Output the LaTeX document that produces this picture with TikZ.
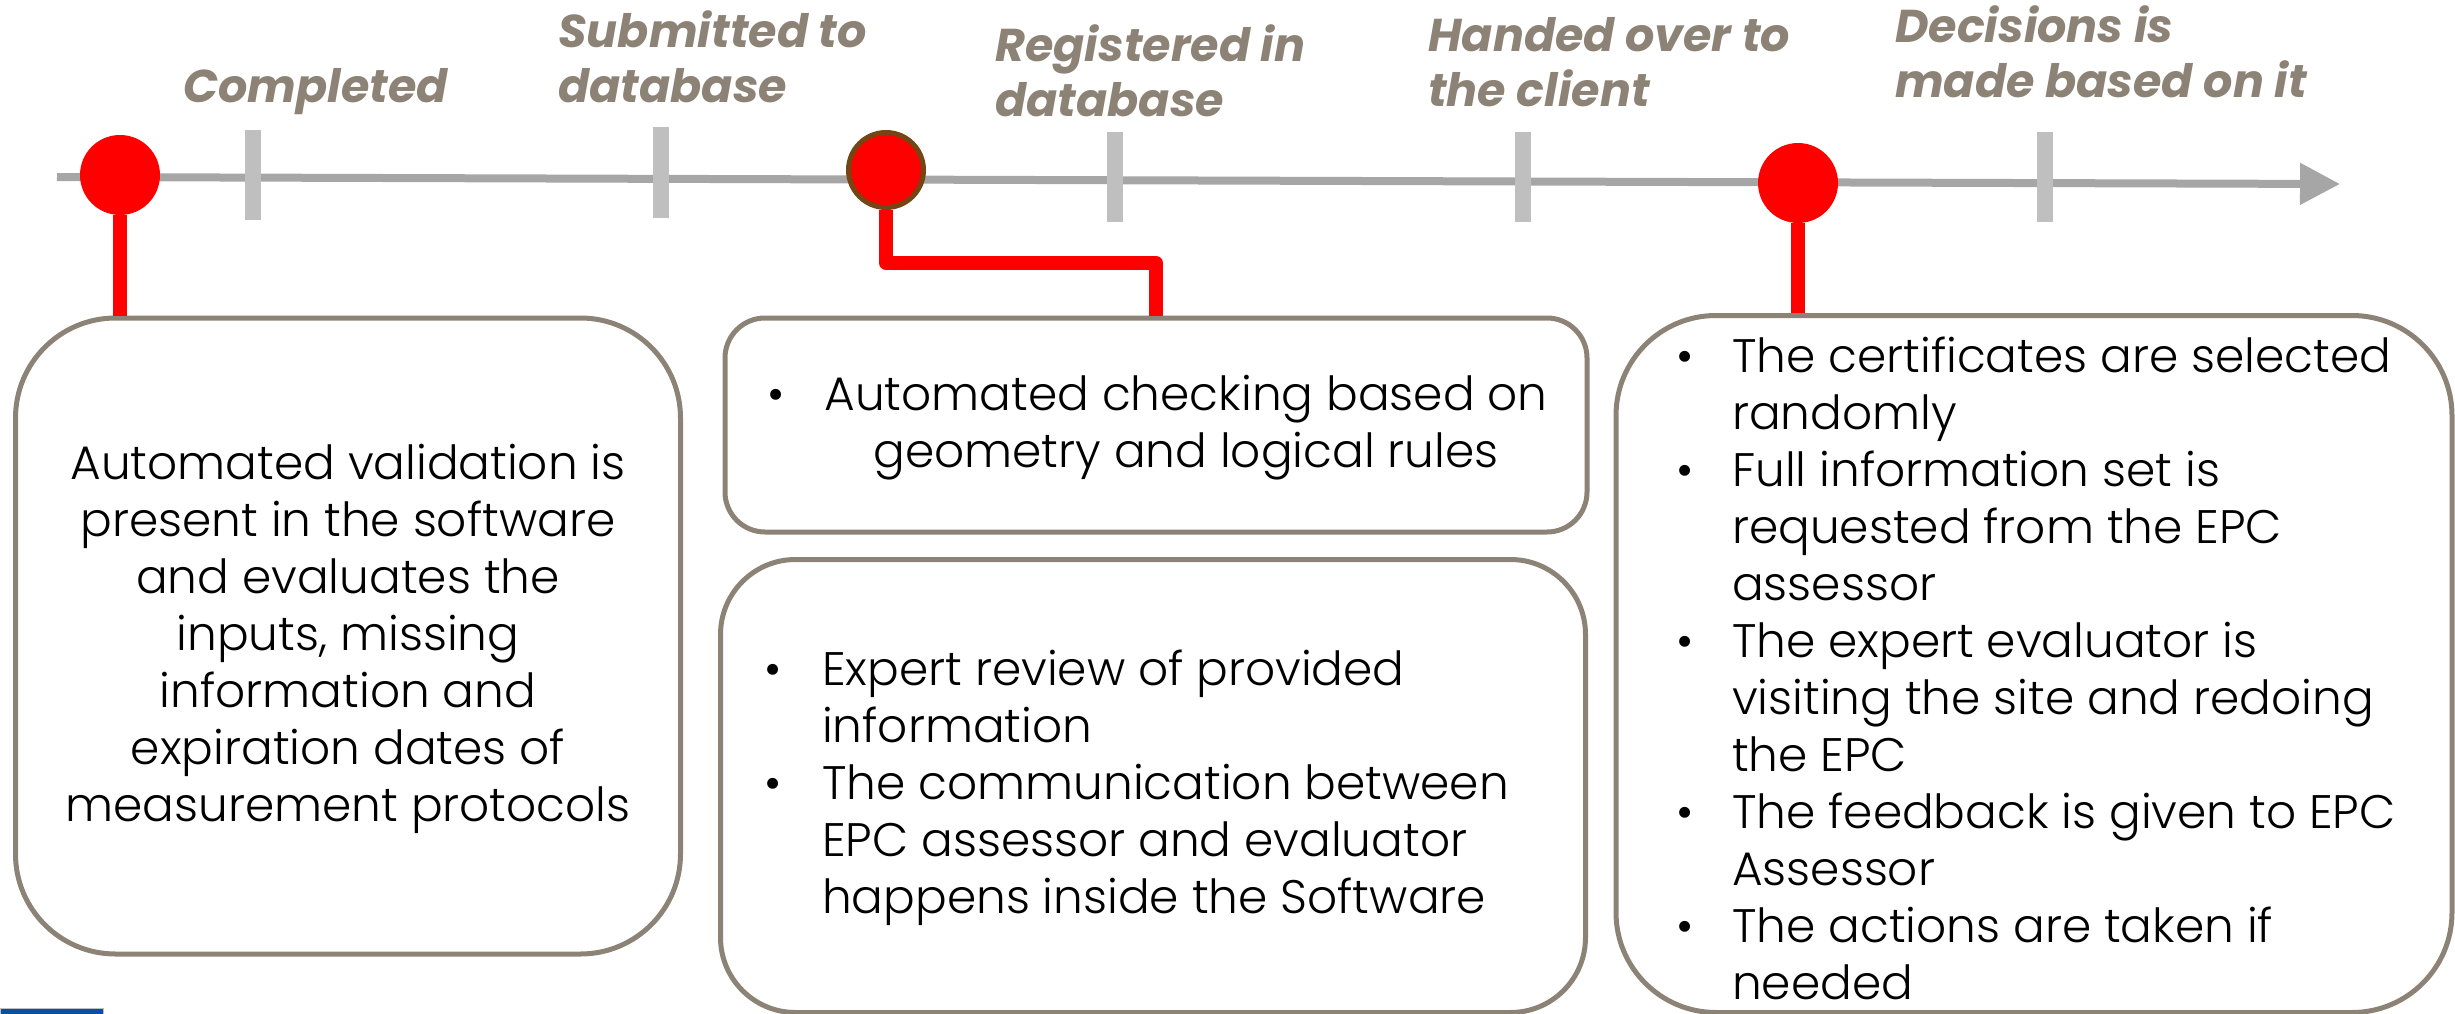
\documentclass[tikz,border=0pt]{standalone}
\usepackage{fontspec}
\setmainfont{Poppins}[UprightFont=* Light,BoldFont=* Bold,BoldItalicFont=* Bold Italic]
\usetikzlibrary{arrows.meta}
\definecolor{taupe}{RGB}{140,131,118}
\definecolor{axisgray}{RGB}{166,166,166}
\definecolor{tickgray}{RGB}{191,191,191}
\definecolor{dotred}{RGB}{255,0,0}
\definecolor{dotbrown}{RGB}{115,70,20}
\definecolor{logoblue}{RGB}{12,78,160}
\begin{document}
\begin{tikzpicture}[x=1pt,y=-1pt,
  tickmark/.style={draw=tickgray,line width=16pt},
  dot/.style={circle,fill=dotred,minimum size=80pt,inner sep=0pt},
  redline/.style={draw=dotred,line width=14pt,line join=round},
  title/.style={text=taupe,font=\fontsize{46}{55}\selectfont\bfseries\itshape,align=left,inner sep=0pt,anchor=base west},
  box/.style={draw=taupe,line width=5pt,fill=white,inner sep=0pt},
  boxtext/.style={font=\fontsize{47}{57}\selectfont,inner sep=0pt,text=black},
]
\useasboundingbox (0,0) rectangle (2455,1014);

% axis
\coordinate (axstart) at (57,177);
\coordinate (axend) at (2340,184);
\draw[axisgray,line width=8pt,-{Triangle[length=40pt,width=40pt]}] (axstart) -- (axend);

% ticks
\draw[tickmark] (253,130) -- (253,220);
\draw[tickmark] (661,127) -- (661,218);
\draw[tickmark] (1115,132) -- (1115,222);
\draw[tickmark] (1523,132) -- (1523,222);
\draw[tickmark] (2045,132) -- (2045,222);

% titles (base = baseline of last line)
\node[title] (t1) at (183,103) {Completed};
\node[title] (t2) at (558,103) {Submitted to\\database};
\node[title] (t3) at (995,117) {Registered in\\database};
\node[title] (t4) at (1428,107) {Handed over to\\the client};
\node[title] (t5) at (1895,98) {Decisions is\\made based on it};

% boxes
\node[box,rounded corners=100pt,minimum width=665pt,minimum height=636pt] (b1) at (348,636) {};
\node[box,rounded corners=40pt,minimum width=862pt,minimum height=214pt] (b2) at (1156,425) {};
\node[box,rounded corners=75pt,minimum width=865pt,minimum height=453pt] (b3) at (1153,786) {};
\node[box,rounded corners=100pt,minimum width=836pt,minimum height=697pt] (b4) at (2034,664) {};

% circles
\node[dot] (c1) at (120,175) {};
\node[dot,draw=dotbrown,line width=5pt,minimum size=75pt] (c2) at (886,170) {};
\node[dot] (c3) at (1798,183) {};

% connectors
\coordinate (k2) at (1156,263);
\draw[redline] (c1.south) -- (c1.south |- b1.north);
\draw[redline] (c2.south) |- (k2) -- (k2 |- b2.north);
\draw[redline] (c3.south) -- (c3.south |- b4.north);

% box texts
\node[boxtext,align=center] (x1) at (348,639) {Automated validation is\\present in the software\\and evaluates the\\inputs, missing\\information and\\expiration dates of\\measurement protocols};
\node[boxtext,align=center] (x2) at (1186,428) {\llap{\textbullet\hspace{40pt}}Automated checking based on\\geometry and logical rules};
\node[boxtext,align=left,anchor=west] (x3) at (764,788) {\makebox[58pt][l]{\textbullet}Expert review of provided\\\hspace*{58pt}information\\\makebox[58pt][l]{\textbullet}The communication between\\\hspace*{58pt}EPC assessor and evaluator\\\hspace*{58pt}happens inside the Software};
\node[boxtext,align=left,anchor=west] (x4) at (1676,668) {\makebox[56pt][l]{\textbullet}The certificates are selected\\\hspace*{56pt}randomly\\\makebox[56pt][l]{\textbullet}Full information set is\\\hspace*{56pt}requested from the EPC\\\hspace*{56pt}assessor\\\makebox[56pt][l]{\textbullet}The expert evaluator is\\\hspace*{56pt}visiting the site and redoing\\\hspace*{56pt}the EPC\\\makebox[56pt][l]{\textbullet}The feedback is given to EPC\\\hspace*{56pt}Assessor\\\makebox[56pt][l]{\textbullet}The actions are taken if\\\hspace*{56pt}needed};

% logo fragment
\fill[logoblue,draw=tickgray,line width=1pt] (0,1008) rectangle (103,1016);
\end{tikzpicture}
\end{document}
